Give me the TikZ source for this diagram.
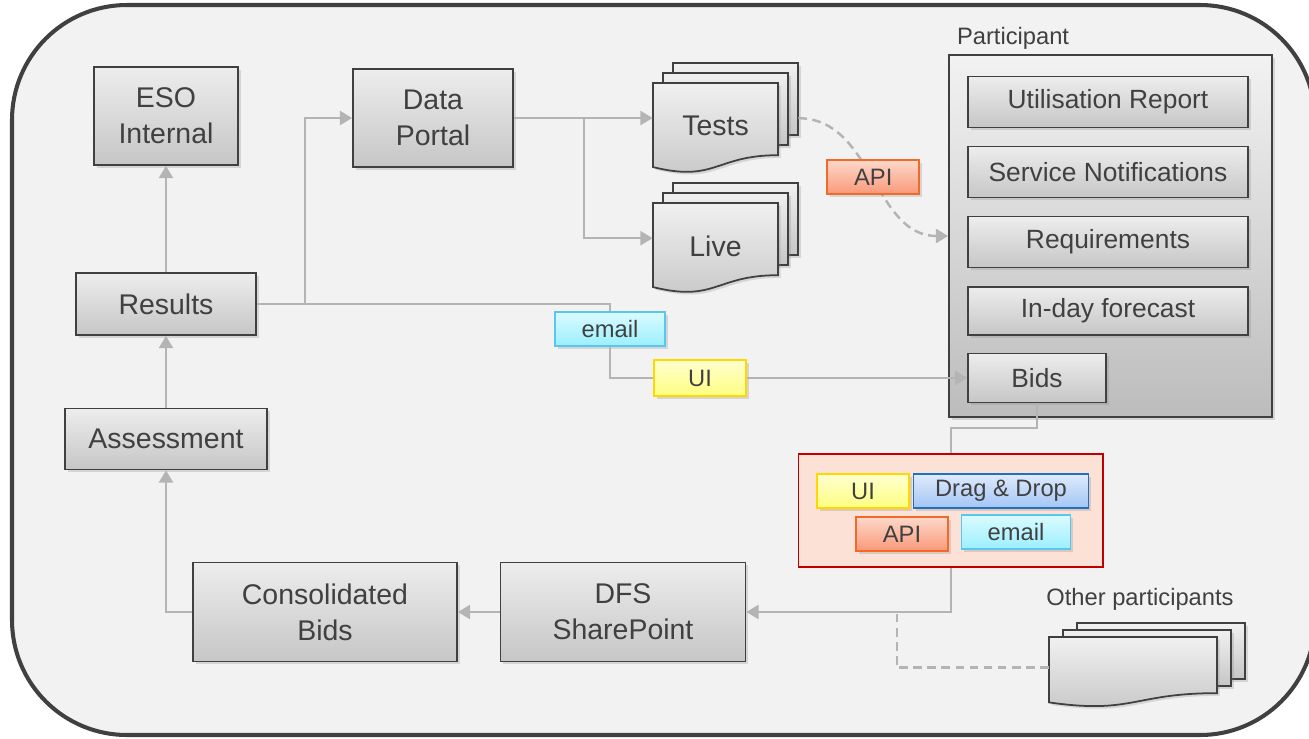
\documentclass[tikz,border=0pt]{standalone}
\usepackage{fontspec}
\setmainfont{Liberation Sans}
\usetikzlibrary{arrows.meta,shadows,calc}

\definecolor{ink}{HTML}{404040}
\definecolor{wire}{HTML}{B4B4B4}
\definecolor{canvas}{HTML}{F2F2F2}
\definecolor{boxtop}{HTML}{EDEDED}
\definecolor{boxbot}{HTML}{C6C6C6}
\definecolor{uitop}{HTML}{FFFFD0}
\definecolor{uibot}{HTML}{FFFF80}
\definecolor{uiline}{HTML}{FFD800}
\definecolor{dragtop}{HTML}{DFEBFC}
\definecolor{dragbot}{HTML}{A3C5F5}
\definecolor{dragline}{HTML}{1E73BE}
\definecolor{apitop}{HTML}{FDD8CA}
\definecolor{apibot}{HTML}{F9997A}
\definecolor{apiline}{HTML}{F26A2A}
\definecolor{mailtop}{HTML}{DAFBFF}
\definecolor{mailbot}{HTML}{9BEFFF}
\definecolor{mailline}{HTML}{58C6EE}
\definecolor{protofill}{HTML}{FBE1D6}
\definecolor{protoline}{HTML}{C00000}

\tikzset{
  softshadow/.style={drop shadow={shadow xshift=1.5pt, shadow yshift=-1.5pt, opacity=0.25}},
  box/.style={draw=ink, line width=1pt, top color=boxtop, bottom color=boxbot, text=ink,
    align=center, font=\fontsize{16.2}{20.4}\selectfont, softshadow},
  inbox/.style={box, font=\fontsize{15}{18}\selectfont, minimum width=5.6cm, minimum height=1.02cm},
  page/.style={draw=ink, line width=1pt, top color=boxtop!80!white, bottom color=boxbot, softshadow},
  pagetext/.style={text=ink, inner sep=0pt, font=\fontsize{16.2}{20.4}\selectfont},
  tag/.style={line width=0.9pt, text=ink, font=\fontsize{13.5}{16}\selectfont,
    minimum height=0.68cm, softshadow},
  tagui/.style={tag, draw=uiline, top color=uitop, bottom color=uibot, minimum width=1.84cm},
  tagdrag/.style={tag, draw=dragline, top color=dragtop, bottom color=dragbot, minimum width=3.5cm},
  tagapi/.style={tag, draw=apiline, top color=apitop, bottom color=apibot, minimum width=1.84cm},
  tagmail/.style={tag, draw=mailline, top color=mailtop, bottom color=mailbot, minimum width=2.2cm},
  wire/.style={draw=wire, line width=1.4pt},
  flow/.style={wire, -{Triangle[width=8pt,length=7pt]}},
  dashwire/.style={wire, dash pattern=on 5pt off 3pt},
  label/.style={text=ink, font=\fontsize{13.5}{16}\selectfont}
}

% stack of pages: name, x, y, width, height, dx, dy, text
\newcommand\docstack[8]{%
  \foreach \lay in {2,1}{
    \path[page] (#2+\lay*#6, #3-\lay*#7) rectangle ++(#4, 0.8*#5);
  }
  \path[page] (#2,#3) -- ++(#4,0) -- ++(0,0.802*#5)
    .. controls (#2+0.5*#4, #3+0.802*#5) and (#2+0.5*#4, #3+1.107*#5) .. (#2, #3+0.934*#5) -- cycle;
  \node[pagetext, minimum width=#4*0.02cm] (#1) at (#2+0.5*#4, #3+0.48*#5) {#8};
}

\begin{document}
\begin{tikzpicture}[x=0.02cm, y=-0.02cm]
  \useasboundingbox (0,0) rectangle (1309,738);
  \path[draw=ink, line width=2.3pt, fill=canvas, rounded corners=2.3cm] (12,5) rectangle (1315,735);

  % ESO side
  \node[box, minimum width=2.88cm, minimum height=1.96cm] (eso) at (166,116) {ESO\\Internal};
  \node[box, minimum width=3.2cm, minimum height=1.96cm] (portal) at (433,118) {Data\\Portal};
  \node[box, minimum width=3.6cm, minimum height=1.24cm] (results) at (166,304) {Results};
  \node[box, minimum width=4.04cm, minimum height=1.22cm] (assess) at (166,439) {Assessment};
  \node[box, minimum width=5.28cm, minimum height=1.98cm] (cons) at (325,612) {Consolidated\\Bids};
  \node[box, minimum width=4.9cm, minimum height=1.98cm] (dfs) at (623,612) {DFS\\SharePoint};

  \docstack{tests}{653}{83}{125}{90}{10}{10}{Tests}
  \docstack{live}{653}{203}{125}{90}{10}{10}{Live}

  % participant
  \node[box, top color=canvas, bottom color=boxbot!95!black, minimum width=6.46cm, minimum height=7.24cm] (part) at (1110.5,236) {};
  \node[label, anchor=south west, inner sep=2pt] (partlabel) at ([xshift=0.1cm, yshift=0.02cm]part.north west) {Participant};
  \node[inbox] (util) at (1108,102) {Utilisation Report};
  \node[inbox] (notif) at (1108,172) {Service Notifications};
  \node[inbox] (req) at (1108,242) {Requirements};
  \node[inbox, minimum height=0.96cm] (fcast) at (1108,311) {In-day forecast};
  \node[inbox, minimum width=2.76cm, minimum height=0.98cm] (bids) at (1037,378) {Bids};

  \node[tagmail] (mailA) at (610,329) {email};
  \node[tagui, minimum height=0.72cm] (uiA) at (700,378) {UI};

  % connectors
  \draw[flow] (results.north) -- (eso.south);
  \draw[flow] (assess.north) -- (results.south);
  \draw[flow] (cons.west) -| (assess.south);
  \draw[flow] (dfs.west) -- (cons.east);
  \draw[flow] (results.east) -- ++(48,0) |- (portal.west);
  \draw[flow] (portal.east) -- (portal.east -| tests.west);
  \draw[flow] ($(portal.east)+(70,0)$) |- ([yshift=0.16cm]live.west);
  \draw[wire] (results.east) -| (mailA.north);
  \draw[wire] (mailA.south) |- (uiA.west);
  \draw[flow] (uiA.east) -- (uiA.east -| bids.west);
  \draw[dashwire, -{Triangle[width=8pt,length=7pt]}] ([xshift=0.4cm, yshift=0.16cm]tests.east)
    to[out=0, in=180] node[tagapi, pos=0.5, solid] (apiA) {API} (part.west);

  \coordinate (turn) at (951,428);
  \draw[flow] (bids.south) |- (turn) -- (turn |- dfs.east) -- (dfs.east);

  % submission channels
  \node[draw=protoline, line width=0.6pt, fill=protofill, minimum width=6.1cm, minimum height=2.26cm] (proto) at (950.5,510.5) {};
  \node[tagui] (uiB) at (863,491) {UI};
  \node[tagdrag] (dragB) at (1001,491) {Drag \& Drop};
  \node[tagapi] (apiB) at (902,534) {API};
  \node[tagmail, minimum width=2.18cm] (mailB) at (1016,532) {email};

  % other participants
  \node[label] (otherslabel) at (1140,599) {Other participants};
  \docstack{others}{1049}{637}{168}{70}{14}{7}{}
  \draw[dashwire] ([yshift=0.06cm]others.west) -| (897,612);
\end{tikzpicture}
\end{document}
